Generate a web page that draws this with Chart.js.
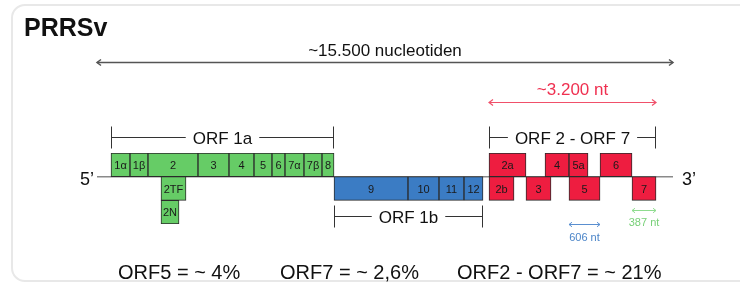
<!DOCTYPE html>
<html>
<head>
<meta charset="utf-8">
<script src="https://cdn.jsdelivr.net/npm/chart.js@4/dist/chart.umd.min.js"></script>
<style>
  html, body { margin: 0; padding: 0; background: #fff; overflow: hidden; }
  #wrap { position: relative; width: 740px; height: 286px; overflow: hidden; }
  #card { position: absolute; left: 11px; top: 4px; width: 780px; height: 278px;
          border: 2px solid #e8e8e8; border-radius: 14px; box-sizing: border-box; }
  canvas { position: absolute; left: 0; top: 0; }
</style>
</head>
<body>
<div id="wrap">
  <div id="card"></div>
  <canvas id="c" width="740" height="286"></canvas>
</div>
<script>
// ---- data (schematic genome positions, nt) ----
const genomeLength = 15500;
const rows = ['above', 'below', 'below2'];
const segmentLabels = ['1α','1β','2','3','4','5','6','7α','7β','8','2TF','2N',
                       '9','10','11','12',
                       '2a','4','5a','6','2b','3','5','7'];
const segmentStarts = [377, 888, 1372, 2718, 3552, 4225, 4709, 5059, 5570, 6055, 1722, 1722,
                       6378, 8369, 9203, 9876,
                       10549, 12056, 12701, 13536, 10549, 11544, 12701, 14397];
const segmentEnds   = [888, 1372, 2718, 3552, 4225, 4709, 5059, 5570, 6055, 6378, 2395, 2207,
                       8369, 9203, 9876, 10387,
                       11544, 12701, 13213, 14397, 11222, 12217, 13536, 15043];
const segmentRows   = ['above','above','above','above','above','above','above','above','above','above','below','below2',
                       'below','below','below','below',
                       'above','above','above','above','below','below','below','below'];
const segmentGroups = ['1a','1a','1a','1a','1a','1a','1a','1a','1a','1a','1a','1a',
                       '1b','1b','1b','1b',
                       'sg','sg','sg','sg','sg','sg','sg','sg'];
const brackets = [
  { label: 'ORF 1a', from: 377, to: 6378, level: 'top' },
  { label: 'ORF 2 - ORF 7', from: 10549, to: 15043, level: 'top' },
  { label: 'ORF 1b', from: 6378, to: 10387, level: 'bottom' }
];
const spans = [
  { label: '~15.500 nucleotiden', from: 0, to: 15500, kind: 'genome' },
  { label: '~3.200 nt', from: 10549, to: 15043, kind: 'sg' },
  { label: '606 nt', from: 12701, to: 13536, kind: 'orf5' },
  { label: '387 nt', from: 14397, to: 15043, kind: 'orf7' }
];
const footerTexts = ['ORF5 = ~ 4%', 'ORF7 = ~ 2,6%', 'ORF2 - ORF7 = ~ 21%'];
const titleText = 'PRRSv';

// ---- styling ----
const groupColors = { '1a': '#66cc66', '1b': '#3b7cc4', 'sg': '#ee1d40' };
const FONT = '"Liberation Sans", Arial, Helvetica, sans-serif';
const pxPerNt = 576 / genomeLength;
const xMin = -97 / pxPerNt;
const xMax = xMin + 740 / pxPerNt;

const barData = segmentLabels.map((l, i) => ({ y: segmentRows[i], x: [segmentStarts[i], segmentEnds[i]] }));

function arrow(ctx, x1, x2, y, color, lw, head) {
  ctx.save();
  ctx.strokeStyle = color; ctx.lineWidth = lw;
  ctx.beginPath(); ctx.moveTo(x1, y); ctx.lineTo(x2, y); ctx.stroke();
  ctx.beginPath();
  ctx.moveTo(x1 + head, y - head * 0.75); ctx.lineTo(x1, y); ctx.lineTo(x1 + head, y + head * 0.75);
  ctx.moveTo(x2 - head, y - head * 0.75); ctx.lineTo(x2, y); ctx.lineTo(x2 - head, y + head * 0.75);
  ctx.stroke();
  ctx.restore();
}

const diagramPlugin = {
  id: 'diagram',
  beforeDatasetsDraw(chart) {
    const ctx = chart.ctx, xs = chart.scales.x, ys = chart.scales.y;
    const yb = (ys.getPixelForValue(0) + ys.getPixelForValue(1)) / 2;
    ctx.save();
    ctx.strokeStyle = '#8a8a8a'; ctx.lineWidth = 1.5;
    ctx.beginPath(); ctx.moveTo(xs.getPixelForValue(0), yb); ctx.lineTo(xs.getPixelForValue(genomeLength), yb); ctx.stroke();
    ctx.restore();
  },
  afterDatasetsDraw(chart) {
    const ctx = chart.ctx, xs = chart.scales.x, ys = chart.scales.y, ca = chart.chartArea;
    const meta = chart.getDatasetMeta(0);
    ctx.save();
    // segment labels
    ctx.fillStyle = '#1a1a1a'; ctx.font = '11px ' + FONT;
    ctx.textAlign = 'center'; ctx.textBaseline = 'middle';
    meta.data.forEach((bar, i) => {
      const p = bar.getProps(['x', 'y', 'base'], true);
      ctx.fillText(segmentLabels[i], (p.x + p.base) / 2, p.y + 1);
    });
    const yb = (ys.getPixelForValue(0) + ys.getPixelForValue(1)) / 2;
    // 5' and 3'
    ctx.fillStyle = '#111'; ctx.font = '18px ' + FONT; ctx.textBaseline = 'alphabetic';
    ctx.textAlign = 'right'; ctx.fillText('5’', xs.getPixelForValue(0) - 3, yb + 8);
    ctx.textAlign = 'left'; ctx.fillText('3’', xs.getPixelForValue(genomeLength) + 9, yb + 8);
    // title
    ctx.font = 'bold 25px ' + FONT; ctx.textAlign = 'left';
    ctx.fillText(titleText, 24, 36);
    // brackets
    brackets.forEach(b => {
      const x1 = Math.round(xs.getPixelForValue(b.from)) + 0.5;
      const x2 = Math.round(xs.getPixelForValue(b.to)) - 0.5;
      const y = b.level === 'top' ? ca.top - 15.5 : ca.bottom - 7.5;
      ctx.font = '17px ' + FONT; ctx.fillStyle = '#111';
      const w = ctx.measureText(b.label).width;
      const cx = (x1 + x2) / 2;
      ctx.strokeStyle = '#333'; ctx.lineWidth = 1;
      ctx.beginPath();
      ctx.moveTo(x1, y - 11); ctx.lineTo(x1, y + 11);
      ctx.moveTo(x2, y - 11); ctx.lineTo(x2, y + 11);
      ctx.moveTo(x1, y); ctx.lineTo(cx - w / 2 - 7, y);
      ctx.moveTo(cx + w / 2 + 7, y); ctx.lineTo(x2, y);
      ctx.stroke();
      ctx.textAlign = 'center'; ctx.textBaseline = 'alphabetic';
      ctx.fillText(b.label, cx, y + 6);
    });
    // spans
    spans.forEach(s => {
      const x1 = xs.getPixelForValue(s.from), x2 = xs.getPixelForValue(s.to), cx = (x1 + x2) / 2;
      ctx.textAlign = 'center'; ctx.textBaseline = 'alphabetic';
      if (s.kind === 'genome') {
        const y = ca.top - 90.5;
        arrow(ctx, x1, x2, y, '#555', 1.5, 4);
        ctx.fillStyle = '#111'; ctx.font = '17px ' + FONT;
        ctx.fillText(s.label, cx, y - 7);
      } else if (s.kind === 'sg') {
        const y = ca.top - 50.5;
        arrow(ctx, x1, x2, y, '#f0506a', 1.2, 4);
        ctx.fillStyle = '#ef3050'; ctx.font = '17px ' + FONT;
        ctx.fillText(s.label, cx, y - 8);
      } else if (s.kind === 'orf5') {
        const y = ca.bottom + 0.5;
        arrow(ctx, x1, x2, y, '#5a8fd0', 1, 3);
        ctx.fillStyle = '#4a84c8'; ctx.font = '11px ' + FONT;
        ctx.fillText(s.label, cx, y + 16);
      } else {
        const y = ca.bottom - 13.5;
        arrow(ctx, x1, x2, y, '#8fdc8f', 1, 3);
        ctx.fillStyle = '#78d078'; ctx.font = '11px ' + FONT;
        ctx.fillText(s.label, cx, y + 15);
      }
    });
    // footer
    ctx.fillStyle = '#111'; ctx.font = '20px ' + FONT; ctx.textAlign = 'left'; ctx.textBaseline = 'alphabetic';
    const fx = [118, 280, 457];
    footerTexts.forEach((t, i) => ctx.fillText(t, fx[i], 279));
    ctx.restore();
  }
};

new Chart(document.getElementById('c'), {
  type: 'bar',
  data: {
    labels: rows,
    datasets: [{
      data: barData,
      backgroundColor: segmentGroups.map(g => groupColors[g]),
      borderColor: '#2b2b2b',
      borderWidth: 1,
      borderSkipped: false,
      grouped: false,
      categoryPercentage: 1,
      barPercentage: 1
    }]
  },
  options: {
    indexAxis: 'y',
    responsive: false,
    animation: false,
    layout: { padding: { top: 153, bottom: 62, left: 0, right: 0 } },
    scales: {
      x: { type: 'linear', min: xMin, max: xMax, display: false },
      y: { type: 'category', labels: rows, display: false, offset: true }
    },
    plugins: { legend: { display: false }, tooltip: { enabled: false } }
  },
  plugins: [diagramPlugin]
});
</script>
</body>
</html>
